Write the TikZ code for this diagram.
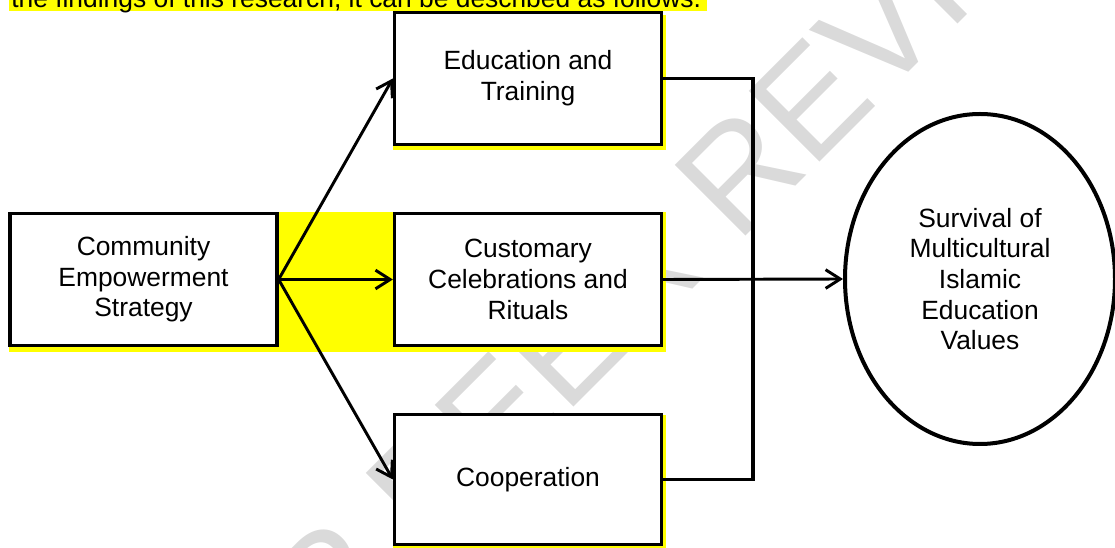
\documentclass[tikz,border=0pt]{standalone}
\usepackage{fontspec}
\setmainfont{Liberation Sans}
\usetikzlibrary{arrows.meta,shapes.geometric}

\definecolor{hlyellow}{RGB}{255,255,0}
\definecolor{wmgray}{RGB}{218,218,218}
\newcommand{\boxfont}{\fontsize{19.8}{23}\selectfont}

\tikzset{
  stepbox/.style={draw, line width=2.7pt, fill=white, align=center, inner sep=0pt,
    minimum width=200pt, minimum height=99pt, font=\boxfont},
  goalshape/.style={ellipse, draw, line width=3pt, fill=white, align=center, inner sep=0pt,
    minimum width=202.5pt, minimum height=247.5pt, font=\boxfont},
  flowarrow/.style={-{Straight Barb[length=11pt,width=14pt]}, line width=2.2pt},
  busline/.style={line width=2.4pt},
  watermark/.style={rotate=45, inner sep=0pt, text=wmgray, font=\fontsize{109}{109}\selectfont}
}

\begin{document}
\begin{tikzpicture}[x=0.75pt,y=0.75pt,yscale=-1,xscale=1]
        \useasboundingbox (0,0) rectangle (1115,548);
        \clip (0,0) rectangle (1115,548);

        % Watermark
        \node[watermark] (wm) at (554,358) {UNDER PEER REVIEW};

        %Highlights
        \fill [hlyellow] (9,0) rectangle (707,11);
        \fill [hlyellow] (9,212) rectangle (666,352);
        \fill [hlyellow] (393,15) rectangle (666,150);
        \fill [hlyellow] (393,415) rectangle (666,548);

        % Text Node
        \node [anchor=base west, inner sep=0pt, font=\boxfont] (intro) at (11,8) {the findings of this research, it can be described as follows.};

        %Shape: Rectangle
        \node [stepbox] (community) at (143.5,279.5) {Community\\Empowerment\\Strategy};
        %Shape: Rectangle
        \node [stepbox] (education) at (528,78.5) {Education and\\Training};
        %Shape: Rectangle
        \node [stepbox] (customary) at (528,279.5) {Customary\\Celebrations and\\Rituals};
        %Shape: Rectangle
        \node [stepbox, minimum height=97.5pt] (cooperation) at (528,479.5) {Cooperation};
        %Shape: Ellipse
        \node [goalshape] (survival) at (980,279) {Survival of\\Multicultural\\Islamic\\Education\\Values};

        %Straight Lines
        \draw [flowarrow] (community.east) -- (education.west);
        \draw [flowarrow] (community.east) -- (customary.west);
        \draw [flowarrow] (community.east) -- (cooperation.west);

        %Bus
        \coordinate (bus) at (753,279.5);
        \draw [busline] (education.east) -| (bus) |- (cooperation.east);
        \draw [flowarrow] (customary.east) -- (survival.west);
\end{tikzpicture}
\end{document}
